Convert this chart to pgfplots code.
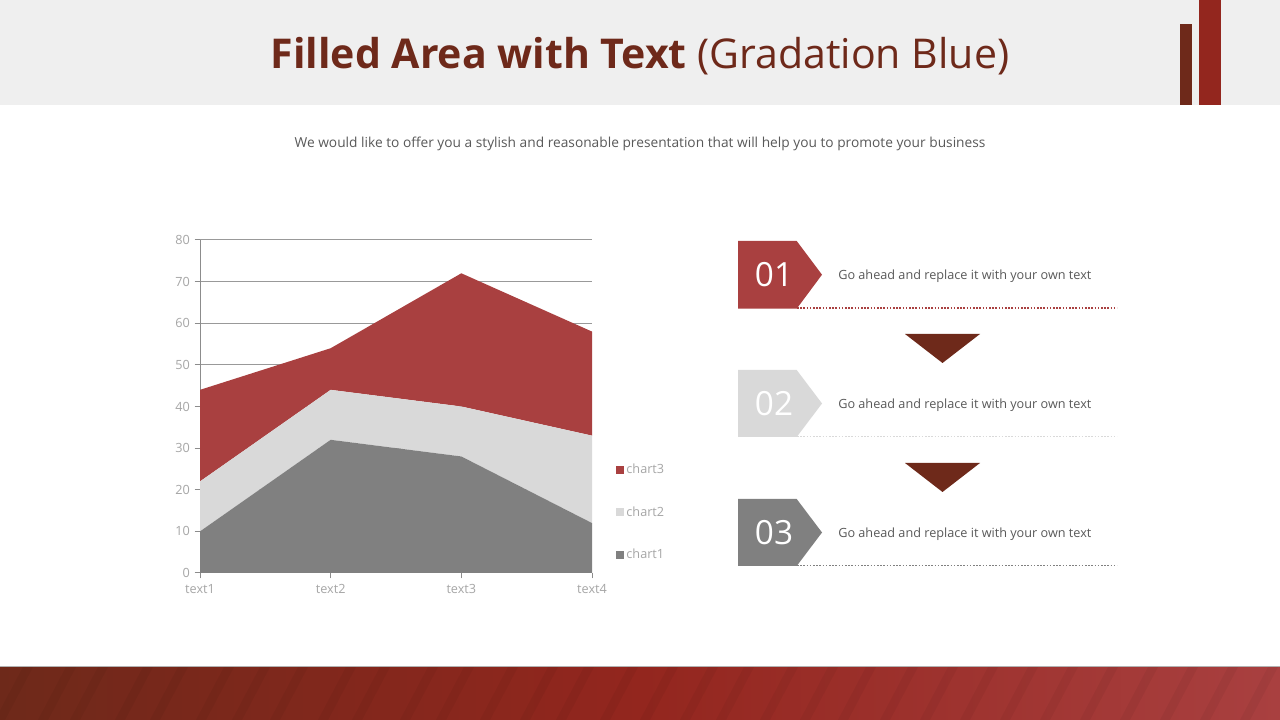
\documentclass[border=0pt]{standalone}
\usepackage{pgfplots}
\pgfplotsset{compat=1.18}
\usepackage{fontspec}
\setmainfont{Open Sans}
\definecolor{cthree}{RGB}{169,64,64}
\definecolor{ctwo}{RGB}{217,217,217}
\definecolor{cone}{RGB}{128,128,128}
\definecolor{darkred}{RGB}{110,41,26}
\definecolor{barred}{RGB}{147,38,30}
\definecolor{hdr}{RGB}{239,239,239}
\definecolor{lbl}{RGB}{166,166,166}
\definecolor{txt}{RGB}{89,89,89}
\begin{document}
\begin{tikzpicture}[x=0.75pt,y=0.75pt]
% page
\fill[white] (0,0) rectangle (1280,720);
\fill[hdr] (0,615) rectangle (1280,720);
\fill[darkred] (1180,615) rectangle (1192,696);
\fill[barred] (1199,615) rectangle (1221,720);
\node[text=darkred, font=\fontsize{30.8}{38}\selectfont] at (640,664) {\textbf{Filled Area with Text} (Gradation Blue)};
\node[text=txt, font=\fontsize{10.3}{12}\selectfont] at (640,576.5) {We would like to offer you a stylish and reasonable presentation that will help you to promote your business};
% bottom band
\shade[left color=darkred, right color=cthree, middle color=barred] (0,0) rectangle (1280,53);
\begin{scope}
\clip (0,0) rectangle (1280,53);
\foreach \s in {-40,-5,38,70,115,150,196,232,270,318,352,400,436,480,520,556,600,640,680,716,760,800,838,880,920,960,1000,1040,1080,1120,1160,1200,1240,1280}{
  \fill[black, opacity=0.045] (\s,0) -- (\s+10,0) -- (\s+38,53) -- (\s+28,53) -- cycle;
}
\end{scope}
\fill[black!30] (0,53) rectangle (1280,53.8);
% chart
\begin{axis}[
  at={(150pt,110.25pt)}, anchor=south west,
  scale only axis, width=294pt, height=249.75pt,
  xmin=0, xmax=3, ymin=0, ymax=80,
  xtick={0,1,2,3}, xticklabels={text1,text2,text3,text4},
  ytick={0,10,...,80},
  axis x line*=bottom, axis y line*=left,
  axis line style={color=black!45, line width=0.75pt},
  tick align=outside, major tick length=4pt,
  tick style={color=black!45, line width=0.75pt},
  ymajorgrids, major grid style={color=black!40, line width=0.75pt},
  tick label style={text=lbl, font=\fontsize{9.5}{11}\selectfont},
  /pgf/number format/assume math mode=true,
  xticklabel style={yshift=-1pt},
  stack plots=y,
  reverse legend,
  legend cell align=left,
  legend image code/.code={\fill[#1] (0pt,-3pt) rectangle (6pt,3pt);},
  legend style={draw=none, fill=none, inner sep=0pt, at={(1.06,0.029)}, anchor=south west,
    font=\fontsize{9.5}{11}\selectfont, text=lbl, row sep=19pt,
    /tikz/every even column/.append style={column sep=2pt}},
]
\addplot[fill=cone, draw=none] coordinates {(0,10) (1,32) (2,28) (3,12)} \closedcycle;
\addlegendentry{chart1}
\addplot[fill=ctwo, draw=none] coordinates {(0,12) (1,12) (2,12) (3,21)} \closedcycle;
\addlegendentry{chart2}
\addplot[fill=cthree, draw=none] coordinates {(0,22) (1,10) (2,32) (3,25)} \closedcycle;
\addlegendentry{chart3}
\end{axis}
% right panel
\fill[cthree] (738,479) -- (796.7,479) -- (822,445.3) -- (796.7,411.3) -- (738,411.3) -- cycle;
\fill[ctwo] (738,350) -- (796.7,350) -- (822,316.5) -- (796.7,283) -- (738,283) -- cycle;
\fill[cone] (738,221) -- (796.7,221) -- (822,187.5) -- (796.7,154) -- (738,154) -- cycle;
\draw[cthree, line width=1.2pt, dash pattern=on 1.2pt off 1.2pt] (797,412) -- (1117,412);
\draw[ctwo, line width=1.2pt, dash pattern=on 1.2pt off 1.2pt] (797,283.5) -- (1117,283.5);
\draw[cone, line width=1.2pt, dash pattern=on 1.2pt off 1.2pt] (797,154.5) -- (1117,154.5);
\node[text=white, font=\fontsize{25}{28}\selectfont] at (774,445.3) {01};
\node[text=white, font=\fontsize{25}{28}\selectfont] at (774,316.5) {02};
\node[text=white, font=\fontsize{25}{28}\selectfont] at (774,187.5) {03};
\node[text=txt, anchor=west, inner sep=0pt, font=\fontsize{9.5}{11}\selectfont] at (838,444) {Go ahead and replace it with your own text};
\node[text=txt, anchor=west, inner sep=0pt, font=\fontsize{9.5}{11}\selectfont] at (838,315) {Go ahead and replace it with your own text};
\node[text=txt, anchor=west, inner sep=0pt, font=\fontsize{9.5}{11}\selectfont] at (838,186) {Go ahead and replace it with your own text};
\fill[darkred] (905,386) -- (980,386) -- (942.5,357) -- cycle;
\fill[darkred] (905,257) -- (980,257) -- (942.5,228) -- cycle;
\end{tikzpicture}
\end{document}
